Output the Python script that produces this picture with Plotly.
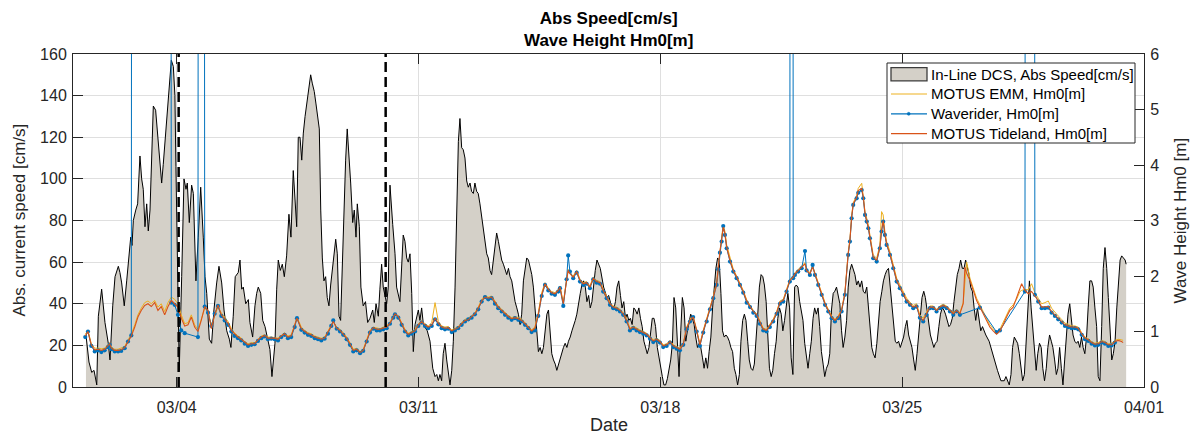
import pandas as pd
import plotly.graph_objects as go

# ---------------- data ----------------
START = pd.Timestamp("2024-03-01")
X_RANGE = ["2024-03-01", "2024-04-01"]
X_TICKS = ["2024-03-04", "2024-03-11", "2024-03-18", "2024-03-25", "2024-04-01"]
X_TICKTEXT = ["03/04", "03/11", "03/18", "03/25", "04/01"]
Y_LEFT_TICKS = [0, 20, 40, 60, 80, 100, 120, 140, 160]
Y_RIGHT_TICKS = [0, 1, 2, 3, 4, 5, 6]

LEGEND_NAMES = ["In-Line DCS, Abs Speed[cm/s]", "MOTUS EMM, Hm0[m]",
                "Waverider, Hm0[m]", "MOTUS Tideland, Hm0[m]"]

# In-Line DCS absolute current speed [cm/s]; time = hours after 2024-03-01 00:00
SPEED_HOURS = [
    9.0, 11.1, 13.0, 14.6, 16.5, 17.6, 19.9, 21.0, 22.2, 24.5, 25.7, 27.6, 29.2, 31.5, 32.6, 33.8,
    35.6, 37.3, 39.1, 40.1, 41.0, 41.9, 43.6, 44.9, 46.5, 47.7, 48.8, 50.0, 51.2, 52.3, 53.5, 55.8,
    57.4, 59.2, 60.4, 61.6, 62.7, 65.1, 66.9, 68.3, 69.7, 70.8, 71.5, 72.4, 73.8, 75.5, 77.1, 78.5,
    79.4, 80.8, 82.4, 83.6, 85.4, 87.0, 88.7, 90.5, 91.7, 92.9, 94.7, 96.3, 97.9, 99.8, 101.4, 103.3,
    104.9, 106.8, 108.6, 109.7, 111.3, 112.7, 114.8, 116.0, 117.2, 118.3, 120.0, 121.8, 122.9, 124.8,
    126.4, 127.6, 128.7, 130.4, 131.8, 133.4, 135.0, 136.8, 138.2, 140.3, 141.5, 142.6, 144.0, 145.4,
    146.8, 148.4, 150.0, 151.4, 153.0, 154.2, 155.4, 156.5, 157.7, 158.9, 160.0, 161.2, 162.3, 163.9,
    165.1, 166.2, 167.6, 168.8, 170.0, 171.1, 172.1, 173.2, 174.3, 175.5, 176.6, 177.8, 179.0, 180.1,
    181.3, 182.5, 183.6, 184.8, 185.9, 187.3, 188.2, 189.4, 190.5, 191.9, 192.9, 194.3, 195.4, 196.6,
    197.5, 198.9, 200.0, 201.6, 203.2, 204.7, 206.3, 208.2, 209.3, 210.5, 212.1, 213.2, 214.4, 215.5,
    217.9, 219.0, 220.2, 222.1, 223.7, 224.8, 227.1, 229.4, 230.6, 231.8, 232.9, 234.1, 235.3, 236.4,
    237.6, 239.9, 241.0, 242.2, 243.4, 246.1, 248.0, 249.9, 251.5, 252.7, 253.8, 254.9, 256.1, 257.2,
    258.4, 259.6, 260.7, 261.9, 263.1, 264.2, 265.4, 266.5, 267.7, 268.8, 270.0, 271.1, 272.3, 273.5,
    274.6, 275.8, 276.9, 278.1, 279.2, 280.4, 281.5, 282.7, 283.9, 285.0, 286.2, 287.4, 288.5, 289.7,
    290.8, 292.0, 293.2, 294.3, 295.5, 296.6, 297.8, 299.0, 300.1, 301.3, 302.5, 303.6, 304.8, 305.9,
    307.1, 308.3, 309.4, 310.6, 311.7, 312.9, 314.1, 315.2, 316.4, 317.5, 318.7, 319.8, 321.0, 322.2,
    323.3, 324.5, 325.7, 326.8, 328.0, 329.2, 330.3, 331.5, 332.6, 333.8, 335.0, 336.1, 337.3, 338.3,
    339.6, 340.7, 341.9, 343.1, 344.2, 345.4, 346.6, 347.7, 348.9, 350.0, 351.2, 352.4, 353.5, 354.7,
    355.9, 357.0, 358.2, 359.3, 360.5, 361.6, 362.8, 364.0, 365.1, 366.3, 368.6, 370.9, 372.1, 373.3,
    374.4, 375.6, 376.8, 377.9, 379.1, 380.3, 381.4, 382.6, 383.8, 384.9, 386.1, 387.2, 388.4, 389.6,
    390.7, 391.9, 393.1, 394.2, 395.4, 396.6, 397.7, 398.9, 400.1, 401.2, 402.4, 403.6, 404.7, 405.9,
    407.0, 408.2, 409.4, 410.5, 411.7, 412.9, 414.0, 415.2, 416.4, 417.5, 418.7, 419.8, 421.0, 422.2,
    423.3, 424.5, 425.7, 426.8, 428.0, 429.1, 430.3, 431.5, 432.6, 433.8, 435.0, 436.1, 437.3, 438.4,
    439.6, 440.8, 441.9, 443.1, 444.3, 445.4, 446.6, 447.8, 448.9, 450.1, 451.2, 452.4, 453.6, 454.7,
    455.9, 457.0, 458.2, 459.4, 460.5, 461.7, 462.9, 464.0, 465.2, 466.4, 467.5, 468.7, 469.8, 471.0,
    472.2, 473.3, 474.5, 475.7, 476.8, 478.0, 479.2, 480.3, 481.5, 482.6, 483.8, 485.0, 486.1, 487.3,
    488.5, 489.6, 490.8, 492.0, 493.1, 494.3, 495.5, 496.6, 497.8, 498.9, 500.1, 501.3, 502.4, 503.6,
    504.8, 505.9, 507.1, 508.3, 509.4, 510.6, 511.8, 512.9, 514.1, 515.2, 516.4, 517.6, 518.7, 519.9,
    521.1, 522.2, 523.4, 524.6, 525.7, 526.9, 528.1, 529.2, 530.4, 531.6, 532.7, 533.9, 535.0, 536.2,
    537.4, 538.5, 539.7, 540.9, 542.0, 543.2, 544.4, 545.5, 546.7, 547.9, 549.0, 550.2, 551.4, 552.5,
    553.7, 554.9, 556.0, 557.2, 558.4, 559.5, 560.7, 561.9, 563.0, 564.2, 565.3, 566.5, 567.7, 568.8,
    570.0, 571.2, 572.3, 573.5, 574.7, 575.8, 577.0, 578.2, 579.3, 580.5, 581.7, 582.8, 584.0, 585.1,
    586.3, 587.5, 588.6, 589.8, 591.0, 592.1, 593.3, 594.5, 595.6, 596.8, 598.0, 599.1, 600.3, 601.5,
    602.6, 603.8, 605.0, 606.1, 607.3, 608.5, 609.6, 610.8, 612.0, 613.1, 614.3, 615.5, 616.6, 617.8,
    619.0, 620.1, 621.3, 622.5, 623.6, 624.8, 626.0, 627.1, 628.3, 629.5, 630.6, 631.8, 634.1, 636.4,
    637.6, 640.0, 642.2, 644.6, 646.9, 648.1, 649.3, 650.4, 651.6, 652.7, 653.9, 655.1, 656.2, 657.4,
    658.6, 659.7, 660.9, 662.1, 663.2, 664.4, 665.6, 666.7, 667.9, 669.1, 670.2, 671.4, 672.6, 673.7,
    674.9, 676.1, 677.2, 678.4, 679.6, 680.7, 681.9, 683.1, 684.2, 685.4, 686.6, 687.7, 688.9, 690.1,
    691.2, 692.4, 693.6, 694.7, 695.9, 697.1, 698.2, 699.4, 700.6, 701.7, 702.9, 704.1, 705.2, 706.4,
    707.6, 708.7, 709.9, 711.1, 712.2, 713.4, 714.6, 715.7, 716.9, 718.1, 719.2, 720.4, 721.6, 722.7,
    723.9, 725.1, 726.2, 727.4, 728.5, 729.7, 730.9, 731.6,
]
SPEED_CMS = [
    25, 12, 7, 8, 1, 34, 47, 38, 31, 21, 13, 39, 53, 58, 55, 50,
    39, 51, 63, 72, 68, 80, 85, 88, 111, 100, 95, 77, 88, 75, 85, 135,
    133, 119, 108, 98, 107, 128, 144, 157, 154, 140, 106, 60, 8, 53, 100, 95,
    98, 79, 97, 93, 51, 72, 96, 72, 53, 45, 23, 21, 37, 50, 58, 50,
    37, 27, 23, 19, 34, 53, 55, 61, 47, 48, 40, 42, 31, 24,
    39, 45, 48, 45, 32, 29, 24, 18, 5, 21, 47, 61, 56, 59,
    53, 63, 83, 72, 104, 91, 77, 120, 120, 109, 122, 130, 136, 144,
    150, 146, 142, 136, 128, 124, 85, 62, 51, 53, 43, 39, 49, 57,
    64, 71, 64, 34, 32, 66, 85, 109, 124, 111, 98, 79, 85, 72,
    88, 77, 48, 39, 41, 31, 33, 37, 31, 40, 34, 47, 59, 48,
    40, 48, 97, 78, 64, 48, 41, 73, 70, 62, 60, 64, 45, 17,
    30, 37, 32, 38, 30, 27, 22, 9, 5, 6, 3, 6, 3, 16,
    21, 13, 8, 1, 8, 22, 48, 80, 118, 129, 115, 114, 110, 99,
    96, 98, 94, 93, 98, 94, 93, 88, 82, 77, 70, 64, 62, 56,
    54, 61, 70, 74, 70, 65, 61, 59, 56, 54, 57, 53, 51, 46,
    41, 38, 35, 30, 35, 51, 57, 62, 61, 57, 54, 48, 38, 27,
    17, 19, 16, 19, 29, 35, 37, 25, 16, 13, 11, 8, 11, 14,
    16, 19, 21, 19, 22, 24, 27, 29, 32, 35, 41, 45, 49, 51,
    48, 41, 44, 38, 41, 49, 56, 61, 59, 57, 48, 43, 44, 41,
    38, 37, 41, 48, 51, 44, 38, 41, 33, 35, 32, 33, 30, 38,
    37, 35, 38, 33, 29, 22, 19, 16, 19, 27, 33, 33, 29, 19,
    14, 9, 5, 1, 1, 4, 9, 13, 21, 43, 38, 19, 5, 27,
    43, 38, 22, 27, 32, 35, 33, 30, 24, 19, 21, 19, 14, 9,
    14, 9, 17, 24, 38, 48, 57, 62, 61, 45, 27, 24, 25, 24,
    22, 19, 17, 9, 6, 1, 6, 22, 32, 35, 32, 22, 13, 9,
    8, 11, 21, 35, 48, 54, 53, 49, 41, 27, 9, 5, 8, 16,
    22, 33, 38, 35, 27, 32, 38, 45, 38, 14, 6, 48, 49, 48,
    41, 37, 32, 21, 16, 9, 16, 22, 33, 38, 35, 38, 29, 17,
    11, 5, 9, 11, 16, 37, 45, 46, 48, 43, 40, 27, 19, 24,
    32, 48, 56, 59, 57, 54, 49, 51, 48, 51, 46, 45, 48, 38,
    27, 19, 16, 14, 21, 32, 41, 46, 51, 54, 56, 57, 48, 38,
    29, 22, 21, 22, 19, 21, 24, 29, 32, 25, 22, 19, 13, 8,
    16, 25, 35, 43, 46, 43, 37, 30, 25, 22, 19, 21, 22, 29,
    35, 38, 37, 35, 32, 29, 30, 33, 41, 48, 54, 57, 61, 57,
    57, 61, 57, 54, 48, 46, 38, 32, 38, 32, 27, 29, 25, 22,
    19, 13, 8, 3, 3, 5, 3, 1, 6, 19, 24, 22, 21, 16,
    8, 3, 6, 21, 37, 51, 38, 27, 16, 8, 16, 21, 19, 9,
    3, 9, 19, 25, 22, 19, 13, 6, 9, 19, 9, 1, 13, 25,
    35, 40, 32, 25, 22, 21, 22, 19, 24, 19, 16, 24, 38, 51,
    51, 48, 38, 29, 5, 3, 29, 57, 67, 57, 43, 25, 13, 16,
    22, 38, 48, 61, 63, 62, 61, 59,
]

# Wave height Hm0 [m]; shared time stamps (hours after 2024-03-01 00:00)
# None = no Waverider sample; 99.0 = invalid Waverider record (off scale)
WAVE_HOURS = [
    8.5, 10.4, 12.7, 15.1, 17.4, 19.7, 22.0, 24.3, 25.5, 26.6, 29.0, 31.3, 33.5, 35.9, 38.2, 40.5,
    42.9, 45.1, 47.4, 49.8, 52.1, 54.4, 56.7, 59.0, 61.3, 63.7, 66.0, 68.3, 70.6, 72.9, 75.2, 77.6,
    79.9, 82.2, 84.5, 86.8, 89.1, 91.5, 93.8, 96.1, 98.4, 100.7, 103.0, 105.4, 107.7, 110.0, 112.3, 114.6,
    116.9, 119.3, 121.6, 123.9, 126.2, 128.5, 130.8, 133.2, 135.4, 137.7, 140.1, 142.4, 144.7, 147.0, 149.3, 151.6,
    154.0, 155.6, 158.6, 160.9, 163.2, 165.5, 167.9, 170.2, 172.5, 174.8, 177.1, 179.4, 180.8, 183.2, 185.5, 187.7,
    190.1, 192.4, 194.7, 197.1, 199.4, 201.6, 204.0, 206.3, 208.6, 211.0, 213.2, 215.5, 217.9, 220.2, 222.5, 223.7,
    226.0, 228.3, 230.6, 232.9, 235.3, 237.6, 239.9, 242.2, 244.5, 246.8, 249.2, 251.5, 253.8, 256.1, 258.4, 260.7,
    263.1, 265.3, 267.6, 270.0, 272.3, 274.6, 276.9, 279.2, 281.5, 283.9, 286.2, 288.5, 290.8, 293.1, 295.4, 297.8,
    300.1, 302.4, 304.7, 307.0, 309.3, 311.7, 314.0, 316.3, 318.6, 320.9, 323.2, 325.6, 327.9, 330.2, 332.5, 334.8,
    337.1, 338.3, 340.6, 342.9, 344.0, 345.2, 347.5, 349.9, 352.2, 354.5, 356.8, 359.1, 361.4, 363.8, 366.1, 368.3,
    370.7, 373.0, 375.3, 377.7, 380.0, 382.2, 384.6, 386.9, 389.2, 391.5, 393.8, 396.1, 398.5, 400.8, 403.1, 405.4,
    407.7, 410.0, 412.4, 414.7, 417.0, 419.3, 421.6, 423.9, 426.3, 428.6, 430.8, 433.2, 435.5, 437.8, 440.2, 442.5,
    444.8, 447.1, 448.2, 449.4, 450.6, 451.7, 452.9, 454.1, 456.4, 458.7, 461.0, 463.3, 465.6, 468.0, 470.3, 472.6,
    474.9, 477.2, 479.5, 481.8, 484.1, 486.4, 488.8, 491.1, 493.4, 495.7, 498.0, 499.1, 500.3, 501.5, 503.8, 506.2,
    508.5, 509.6, 511.9, 513.8, 515.4, 517.7, 520.1, 522.4, 524.7, 527.0, 529.3, 531.6, 533.9, 536.2, 538.5, 539.7,
    540.9, 542.0, 544.4, 545.5, 547.9, 549.0, 550.2, 551.4, 552.5, 553.6, 555.9, 558.3, 560.5, 561.7, 562.8, 564.0,
    565.2, 567.5, 569.8, 572.2, 574.4, 576.7, 579.1, 581.4, 583.7, 586.0, 588.3, 590.6, 593.0, 595.3, 597.6, 599.9,
    602.2, 604.5, 606.9, 609.2, 611.5, 613.8, 616.1, 618.4, 619.6, 620.8, 623.1, 625.4, 627.7, 630.0, 632.3, 634.6,
    636.9, 639.2, 641.6, 643.9, 646.2, 648.5, 650.8, 653.1, 655.5, 657.8, 659.0, 661.3, 663.6, 665.9, 668.2, 670.5,
    672.9, 675.2, 677.5, 679.8, 682.1, 684.4, 686.8, 689.1, 691.4, 693.7, 696.0, 698.3, 700.7, 703.0, 705.3, 707.6,
    709.9, 712.2, 714.6, 716.9, 719.2, 721.5, 723.8, 726.1, 728.4, 729.5,
]
EMM_HM0 = [
    0.95, 1.02, 0.78, 0.70, 0.70, 0.69, 0.70, 0.76, 0.80, 0.72, 0.68, 0.68, 0.70, 0.73, 0.85, 0.95,
    1.12, 1.30, 1.42, 1.52, 1.55, 1.50, 1.56, 1.44, 1.50, 1.36, 1.52, 1.62, 1.58, 1.50, 1.30, 1.14,
    1.16, 1.30, 1.12, 1.04, 1.22, 1.42, 1.36, 1.12, 1.28, 1.44, 1.34, 1.25, 1.18, 1.05, 0.97, 0.92,
    0.88, 0.82, 0.78, 0.80, 0.80, 0.86, 0.92, 0.94, 0.90, 0.90, 0.89, 0.88, 0.93, 0.98, 0.92, 0.94,
    1.12, 1.26, 1.08, 1.02, 0.98, 0.96, 0.92, 0.90, 0.88, 0.90, 1.00, 1.12, 1.18, 1.08, 1.04, 0.98,
    0.90, 0.80, 0.68, 0.70, 0.64, 0.68, 0.84, 1.02, 1.08, 1.06, 1.05, 1.08, 1.10, 1.17, 1.28, 1.33,
    1.28, 1.16, 1.04, 0.97, 1.00, 1.03, 1.14, 1.20, 1.14, 1.10, 1.16, 1.52, 1.18, 1.10, 1.08, 1.09,
    1.03, 1.06, 1.09, 1.16, 1.22, 1.24, 1.28, 1.34, 1.44, 1.58, 1.65, 1.62, 1.64, 1.55, 1.46, 1.40,
    1.34, 1.29, 1.25, 1.27, 1.25, 1.22, 1.16, 1.10, 1.03, 1.08, 1.34, 1.70, 1.88, 1.78, 1.72, 1.70,
    1.76, 1.82, 1.52, 1.94, 2.12, 2.06, 2.00, 2.10, 1.94, 1.88, 1.90, 1.82, 1.98, 1.92, 1.90, 1.76,
    1.64, 1.52, 1.46, 1.44, 1.40, 1.34, 1.22, 1.06, 1.10, 1.06, 1.03, 1.00, 0.97, 0.91, 0.85, 0.88,
    0.84, 0.76, 0.78, 0.84, 0.76, 0.73, 0.70, 0.78, 1.08, 1.22, 1.28, 1.04, 0.78, 1.02, 1.22, 1.44,
    1.64, 1.88, 2.18, 2.48, 2.70, 2.92, 2.80, 2.56, 2.32, 2.12, 2.00, 1.88, 1.74, 1.57, 1.48, 1.38,
    1.32, 1.18, 1.06, 1.04, 1.12, 1.22, 1.36, 1.55, 1.58, 1.76, 1.94, 1.97, 2.00, 2.06, 2.12, 2.18,
    2.24, 2.12, 2.06, 2.18, 2.06, 1.88, 1.70, 1.52, 1.40, 1.28, 1.22, 1.28, 1.40, 1.70, 2.42, 2.66,
    3.08, 3.32, 3.45, 3.58, 3.67, 3.46, 3.16, 3.04, 2.92, 2.74, 2.38, 2.32, 2.56, 3.16, 3.10, 2.80,
    2.62, 2.44, 2.20, 1.96, 1.84, 1.72, 1.60, 1.53, 1.47, 1.50, 1.30, 1.24, 1.35, 1.46, 1.46, 1.40,
    1.46, 1.49, 1.46, 1.40, 1.34, 1.40, 1.34, 1.52, 1.90, 2.25, 1.96, 1.78, 1.60, 1.48, 1.36, 1.24,
    1.12, 1.05, 0.98, 1.04, 1.16, 1.30, 1.42, 1.48, 1.58, 1.72, 1.74, 1.76, 1.75, 1.86, 1.70, 1.60,
    1.50, 1.52, 1.55, 1.42, 1.34, 1.28, 1.22, 1.15, 1.13, 1.10, 1.10, 1.08, 0.98, 0.90, 0.87, 0.82,
    0.79, 0.80, 0.84, 0.82, 0.78, 0.79, 0.84, 0.86, 0.85, 0.84,
]
WAVERIDER_HM0 = [
    0.90, 1.00, 0.74, 0.64, 0.66, 0.63, 0.66, 0.72, 0.76, 0.68, 0.64, 0.64, 0.65, 0.70, 0.82, 0.93,
    99.0, 99.0, 99.0, 99.0, 99.0, 99.0, 99.0, 99.0, 99.0, 99.0, 99.0, 1.52, 1.48, 1.30, 1.02, 0.97,
    None, None, None, 0.90, 99.0, 1.45, 1.34, 1.10, 1.32, 1.46, 1.28, 1.20, 1.12, 1.00, 0.92, 0.88,
    0.84, 0.78, 0.74, 0.76, 0.77, 0.83, 0.88, 0.91, 0.86, 0.87, 0.86, 0.84, 0.90, 0.94, 0.88, 0.90,
    1.08, 1.24, 1.03, 0.98, 0.94, 0.92, 0.88, 0.86, 0.84, 0.87, 0.96, 1.10, 1.20, 1.05, 1.00, 0.94,
    0.86, 0.76, 0.64, 0.66, 0.61, 0.65, 0.82, 0.98, 1.05, 1.02, 1.02, 1.04, 1.06, 1.14, 1.25, 1.31,
    1.25, 1.12, 1.00, 0.93, 0.96, 1.00, 1.10, 1.16, 1.10, 1.06, 1.10, 1.22, 1.13, 1.06, 1.04, 1.05,
    0.99, 1.02, 1.06, 1.12, 1.18, 1.22, 1.25, 1.31, 1.40, 1.54, 1.62, 1.58, 1.60, 1.50, 1.42, 1.36,
    1.30, 1.25, 1.21, 1.24, 1.21, 1.18, 1.12, 1.06, 0.99, 1.02, 1.28, 1.64, 1.84, 1.74, 1.68, 1.66,
    1.72, 1.78, 1.46, 1.94, 2.37, 2.08, 1.96, 2.06, 1.90, 1.84, 1.86, 1.78, 1.94, 1.88, 1.86, 1.72,
    1.60, 1.48, 1.42, 1.40, 1.36, 1.30, 1.18, 1.02, 1.06, 1.02, 0.99, 0.96, 0.93, 0.87, 0.81, 0.84,
    0.80, 0.72, 0.74, 0.80, 0.72, 0.69, 0.66, 0.76, 1.04, 1.18, 1.26, 1.00, 0.74, 0.98, 1.18, 1.40,
    1.60, 1.84, 2.12, 2.42, 2.62, 2.90, 2.74, 2.50, 2.26, 2.08, 1.96, 1.84, 1.70, 1.52, 1.44, 1.34,
    1.28, 1.14, 1.02, 1.00, 1.08, 1.18, 1.32, 1.50, 1.54, 1.72, 1.90, 99.0, 1.96, 2.02, 2.08, 2.14,
    2.45, 2.10, 2.02, 2.20, 2.02, 1.84, 1.66, 1.48, 1.36, 1.24, 1.18, 1.24, 1.36, 1.66, 2.38, 2.62,
    3.04, 3.28, 3.40, 3.50, 3.55, 3.40, 3.10, 2.98, 2.86, 2.68, 2.32, 2.26, 2.50, 2.80, 2.98, 2.74,
    2.56, 2.38, 2.14, 1.90, 1.78, 1.66, 1.54, 1.48, 1.42, 1.45, 1.25, 1.18, 1.30, 1.42, 1.42, 1.36,
    1.42, 1.45, 1.42, 1.36, 1.30, 1.36, 1.30, None, None, None, None, None, None, 1.43, None, None,
    None, None, 0.99, 1.02, None, None, None, None, None, None, None, 1.72, 99.0, 99.0, 1.66, 1.54,
    1.42, 1.42, 1.43, 1.34, 1.28, 1.22, 1.16, 1.10, 1.08, 1.06, 1.06, 1.04, 0.94, 0.86, 0.83, 0.78,
    0.75, 0.76, 0.80, 0.78, 0.74, 0.75, 0.80, None, None, None,
]
TIDELAND_HM0 = [
    0.92, 1.00, 0.76, 0.67, 0.68, 0.66, 0.68, 0.74, 0.78, 0.70, 0.66, 0.66, 0.67, 0.71, 0.83, 0.92,
    1.08, 1.26, 1.38, 1.47, 1.50, 1.45, 1.52, 1.38, 1.45, 1.30, 1.45, 1.56, 1.50, 1.44, 1.24, 1.10,
    1.12, 1.26, 1.08, 1.00, 1.20, 1.45, 1.38, 1.05, 1.30, 1.48, 1.30, 1.22, 1.15, 1.02, 0.95, 0.90,
    0.86, 0.80, 0.76, 0.78, 0.78, 0.85, 0.90, 0.93, 0.88, 0.88, 0.88, 0.86, 0.92, 0.96, 0.90, 0.92,
    1.10, 1.24, 1.05, 1.00, 0.96, 0.94, 0.90, 0.88, 0.86, 0.88, 0.98, 1.10, 1.18, 1.06, 1.02, 0.96,
    0.88, 0.78, 0.66, 0.68, 0.62, 0.66, 0.83, 1.00, 1.07, 1.04, 1.04, 1.06, 1.08, 1.15, 1.26, 1.32,
    1.27, 1.14, 1.02, 0.95, 0.98, 1.01, 1.12, 1.18, 1.12, 1.08, 1.12, 1.24, 1.15, 1.08, 1.06, 1.07,
    1.01, 1.04, 1.07, 1.14, 1.20, 1.21, 1.26, 1.32, 1.42, 1.55, 1.62, 1.60, 1.62, 1.52, 1.44, 1.38,
    1.32, 1.27, 1.23, 1.25, 1.23, 1.20, 1.14, 1.08, 1.01, 1.06, 1.30, 1.66, 1.86, 1.76, 1.70, 1.68,
    1.74, 1.80, 1.50, 1.92, 2.10, 2.04, 1.98, 2.08, 1.92, 1.86, 1.88, 1.80, 1.96, 1.90, 1.88, 1.74,
    1.62, 1.50, 1.44, 1.42, 1.38, 1.32, 1.20, 1.04, 1.08, 1.04, 1.01, 0.98, 0.95, 0.89, 0.83, 0.86,
    0.82, 0.74, 0.76, 0.82, 0.74, 0.71, 0.68, 0.77, 1.06, 1.20, 1.26, 1.02, 0.76, 1.00, 1.20, 1.42,
    1.62, 1.85, 2.15, 2.45, 2.65, 2.88, 2.76, 2.52, 2.28, 2.10, 1.98, 1.86, 1.72, 1.55, 1.46, 1.36,
    1.30, 1.16, 1.04, 1.02, 1.10, 1.20, 1.34, 1.53, 1.56, 1.74, 1.92, 1.95, 1.98, 2.04, 2.10, 2.16,
    2.22, 2.10, 2.04, 2.16, 2.04, 1.86, 1.68, 1.50, 1.38, 1.26, 1.20, 1.26, 1.38, 1.68, 2.40, 2.64,
    3.06, 3.30, 3.42, 3.54, 3.58, 3.42, 3.12, 3.00, 2.88, 2.70, 2.34, 2.28, 2.52, 2.82, 3.00, 2.76,
    2.58, 2.40, 2.16, 1.92, 1.80, 1.68, 1.56, 1.50, 1.44, 1.47, 1.26, 1.20, 1.32, 1.44, 1.44, 1.38,
    1.44, 1.47, 1.44, 1.38, 1.32, 1.38, 1.32, 1.50, 2.16, 2.05, 1.92, 1.74, 1.56, 1.44, 1.32, 1.20,
    1.08, 1.01, 0.95, 1.01, 1.12, 1.26, 1.38, 1.44, 1.62, 1.80, 1.86, 1.74, 1.68, 1.72, 1.65, 1.56,
    1.44, 1.44, 1.45, 1.36, 1.30, 1.24, 1.18, 1.12, 1.10, 1.08, 1.08, 1.06, 0.96, 0.88, 0.85, 0.80,
    0.77, 0.78, 0.82, 0.80, 0.76, 0.76, 0.82, 0.84, 0.82, 0.80,
]

# Event markers (dashed vertical lines), hours after 2024-03-01 00:00
EVENT_HOURS = [73.4, 217.2]

# ---------------- figure ----------------
def to_time(hours):
    return [START + pd.Timedelta(hours=h) for h in hours]

W, H = 1192, 436
ML, MR, MT, MB = 73, 48, 54, 49
PW, PH = W - ML - MR, H - MT - MB


def px_x(px):  # pixel -> paper x (layout helper for legend / titles)
    return (px - ML) / PW


def px_y(py):  # pixel -> paper y
    return (H - MB - py) / PH


AX_COLOR = "#262626"
GRID_COLOR = "#dfdfdf"
FONT = "Liberation Sans, Arial, Helvetica, sans-serif"
C_AREA = "#d4d0c8"
C_EMM = "#EDB120"
C_WR = "#0072BD"
C_TIDE = "#D95319"

speed_t = to_time(SPEED_HOURS)
wave_t = to_time(WAVE_HOURS)

fig = go.Figure()
fig.add_trace(go.Scatter(
    x=speed_t, y=SPEED_CMS, name=LEGEND_NAMES[0],
    mode="lines", fill="tozeroy", fillcolor=C_AREA,
    line=dict(color="black", width=1), yaxis="y",
))
fig.add_trace(go.Scatter(
    x=wave_t, y=EMM_HM0, name=LEGEND_NAMES[1],
    mode="lines", line=dict(color=C_EMM, width=1), yaxis="y2",
))
fig.add_trace(go.Scatter(
    x=wave_t, y=WAVERIDER_HM0, name=LEGEND_NAMES[2],
    mode="lines+markers", connectgaps=True,
    line=dict(color=C_WR, width=1), marker=dict(color=C_WR, size=4.2),
    yaxis="y2",
))
fig.add_trace(go.Scatter(
    x=wave_t, y=TIDELAND_HM0, name=LEGEND_NAMES[3],
    mode="lines", line=dict(color=C_TIDE, width=1.1), yaxis="y2",
))

for h in EVENT_HOURS:
    t = START + pd.Timedelta(hours=h)
    fig.add_shape(type="line", xref="x", yref="paper", x0=t, x1=t, y0=0, y1=1,
                  line=dict(color="black", width=2.5, dash="10px,5px"), layer="above")

# ---- legend box (drawn as shapes + text so its geometry matches) ----
fig.add_shape(type="rect", xref="paper", yref="paper",
              x0=px_x(887), x1=px_x(1135), y0=px_y(143), y1=px_y(63),
              line=dict(color=AX_COLOR, width=1), fillcolor="white", layer="above")
rows = [74.3, 94.0, 113.8, 133.6]
sx0, sx1 = px_x(891), px_x(927)
fig.add_shape(type="rect", xref="paper", yref="paper", x0=sx0, x1=sx1,
              y0=px_y(rows[0] + 6.6), y1=px_y(rows[0] - 6.6),
              line=dict(color="#3c3c3c", width=1.3), fillcolor=C_AREA, layer="above")
for ry, col in zip(rows[1:], [C_EMM, C_WR, C_TIDE]):
    fig.add_shape(type="line", xref="paper", yref="paper", x0=sx0, x1=sx1,
                  y0=px_y(ry), y1=px_y(ry), line=dict(color=col, width=1.2), layer="above")
fig.add_shape(type="circle", xref="paper", yref="paper",
              x0=px_x(907.2), x1=px_x(910.2), y0=px_y(rows[2] + 1.5), y1=px_y(rows[2] - 1.5),
              line=dict(color=C_WR, width=0.5), fillcolor=C_WR, layer="above")
for ry, name in zip(rows, LEGEND_NAMES):
    fig.add_annotation(text=name, xref="paper", yref="paper", x=px_x(929), y=px_y(ry),
                       xanchor="left", yanchor="middle", showarrow=False,
                       font=dict(family=FONT, size=15, color="black"))

# ---- titles ----
fig.add_annotation(
    text="<b>Abs Speed[cm/s]</b><br><b>Wave Height Hm0[m]</b>",
    xref="paper", yref="paper", x=0.5, y=px_y(29.5), xanchor="center", yanchor="middle",
    showarrow=False, font=dict(family=FONT, size=17, color="black"),
)
fig.add_annotation(text="Date", xref="paper", yref="paper", x=0.5, y=px_y(425),
                   xanchor="center", yanchor="middle", showarrow=False,
                   font=dict(family=FONT, size=18, color=AX_COLOR))
fig.add_annotation(text="Abs. current speed [cm/s]", xref="paper", yref="paper",
                   x=px_x(19), y=0.5, xanchor="center", yanchor="middle", textangle=-90,
                   showarrow=False, font=dict(family=FONT, size=17, color=AX_COLOR))
fig.add_annotation(text="Wave Height Hm0 [m]", xref="paper", yref="paper",
                   x=px_x(1180), y=0.5, xanchor="center", yanchor="middle", textangle=-90,
                   showarrow=False, font=dict(family=FONT, size=17, color=AX_COLOR))

axis_common = dict(
    ticks="inside", ticklen=10, tickwidth=1, tickcolor=AX_COLOR,
    showline=True, linecolor=AX_COLOR, linewidth=1, zeroline=False, automargin=False,
    tickfont=dict(family=FONT, size=16, color=AX_COLOR),
)

fig.update_layout(
    width=W, height=H,
    margin=dict(l=ML, r=MR, t=MT, b=MB, autoexpand=False),
    paper_bgcolor="white", plot_bgcolor="white",
    font=dict(family=FONT, size=15, color=AX_COLOR),
    showlegend=False,
    xaxis=dict(
        type="date", range=X_RANGE, tickvals=X_TICKS, ticktext=X_TICKTEXT,
        mirror="ticks", showgrid=True, gridcolor=GRID_COLOR, gridwidth=1,
        ticklabelstandoff=6, **axis_common,
    ),
    yaxis=dict(
        range=[0, 160], tickvals=Y_LEFT_TICKS, showgrid=True, gridcolor=GRID_COLOR,
        ticklabelstandoff=2, **axis_common,
    ),
    yaxis2=dict(
        overlaying="y", side="right", range=[0, 6], tickvals=Y_RIGHT_TICKS, showgrid=False,
        ticklabelstandoff=2, **axis_common,
    ),
)

# remove the default page margin so the 1192x436 figure fills the window exactly
fig.write_html(
    "out.html",
    config={"displayModeBar": False, "staticPlot": True},
    post_script="document.body.style.margin='0px';document.body.style.overflow='hidden';",
)
